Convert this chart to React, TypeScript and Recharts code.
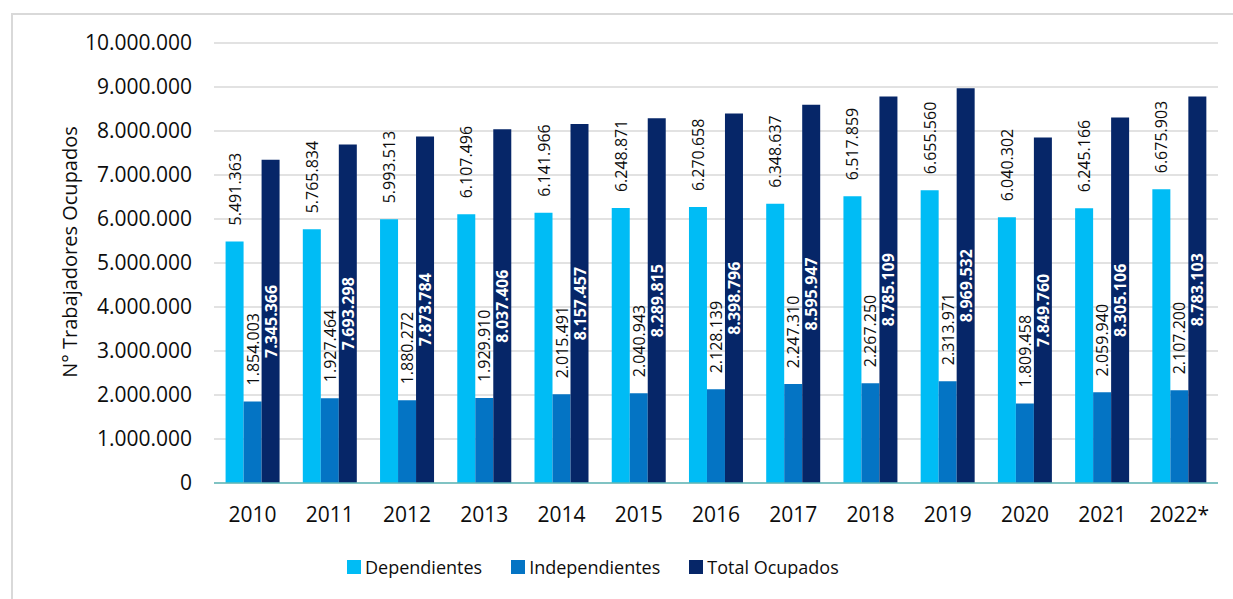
import React from 'react';
import {
  BarChart,
  Bar,
  XAxis,
  YAxis,
  CartesianGrid,
  Legend,
  LabelList,
  Label
} from 'recharts';

const YEARS = ['2010', '2011', '2012', '2013', '2014', '2015', '2016', '2017', '2018', '2019', '2020', '2021', '2022*'];
const DEPENDIENTES = [5491363, 5765834, 5993513, 6107496, 6141966, 6248871, 6270658, 6348637, 6517859, 6655560, 6040302, 6245166, 6675903];
const INDEPENDIENTES = [1854003, 1927464, 1880272, 1929910, 2015491, 2040943, 2128139, 2247310, 2267250, 2313971, 1809458, 2059940, 2107200];
const TOTAL_OCUPADOS = [7345366, 7693298, 7873784, 8037406, 8157457, 8289815, 8398796, 8595947, 8785109, 8969532, 7849760, 8305106, 8783103];
const Y_TICKS = [0, 1000000, 2000000, 3000000, 4000000, 5000000, 6000000, 7000000, 8000000, 9000000, 10000000];

const SERIES = [
  { key: 'dep', name: 'Dependientes', color: '#00bcf5' },
  { key: 'ind', name: 'Independientes', color: '#0474c4' },
  { key: 'tot', name: 'Total Ocupados', color: '#062668' }
];

const FONT = '"Open Sans", "Noto Sans", sans-serif';
const INK = '#0d0d0d';

const data = YEARS.map((year, i) => ({
  year,
  dep: DEPENDIENTES[i],
  ind: INDEPENDIENTES[i],
  tot: TOTAL_OCUPADOS[i]
}));

// 1234567 -> 1.234.567
const fmt = (v: number) => String(Math.round(v)).replace(/\B(?=(\d{3})+(?!\d))/g, '.');

// rotated label sitting just above the bar
const topLabel = (props: any) => {
  const { x, y, width, value } = props;
  const cx = x + width / 2;
  const ty = y - 16;
  return (
    <text
      x={cx}
      y={ty}
      transform={`rotate(-90 ${cx} ${ty})`}
      textAnchor="start"
      dominantBaseline="central"
      fontSize={16}
      fontFamily={FONT}
      fill={INK}
    >
      {fmt(value)}
    </text>
  );
};

// rotated label centred inside the bar
const centerLabel = (props: any) => {
  const { x, y, width, height, value } = props;
  const cx = x + width / 2;
  const cy = y + height / 2;
  return (
    <text
      x={cx}
      y={cy}
      transform={`rotate(-90 ${cx} ${cy})`}
      textAnchor="middle"
      dominantBaseline="central"
      fontSize={16}
      fontWeight={700}
      fontFamily={FONT}
      fill="#fff"
    >
      {fmt(value)}
    </text>
  );
};

const renderLegend = () => (
  <div style={{ display: 'flex', alignItems: 'center', gap: 29, fontFamily: FONT, fontSize: 18, color: INK }}>
    {SERIES.map(s => (
      <div key={s.key} style={{ display: 'flex', alignItems: 'center' }}>
        <span style={{ width: 14, height: 14, background: s.color, marginRight: 4, display: 'inline-block' }} />
        <span>{s.name}</span>
      </div>
    ))}
  </div>
);

export default function App() {
  return (
    <div style={{ position: 'fixed', left: 0, top: 0, width: 1233, height: 599, overflow: 'hidden', background: '#fff' }}>
      <div style={{ position: 'absolute', left: 11, top: 13, width: 1240, height: 620, border: '2px solid #d9d9d9', boxSizing: 'border-box' }} />
      <div style={{ position: 'absolute', left: 0, top: 0 }}>
        <BarChart
          width={1233}
          height={599}
          data={data}
          margin={{ top: 43, right: 15, left: 0, bottom: 56 }}
          barCategoryGap="15%"
          barGap={0}
        >
          <CartesianGrid vertical={false} stroke="#d9d9d9" strokeWidth={1.5} />
          <XAxis
            dataKey="year"
            height={60}
            tickLine={false}
            axisLine={{ stroke: '#5fb8b8', strokeWidth: 1.5 }}
            tickSize={0}
            tickMargin={24}
            tick={{ fontSize: 21, fill: INK, fontFamily: FONT }}
            interval={0}
          />
          <YAxis
            width={214}
            domain={[0, 10000000]}
            ticks={Y_TICKS}
            interval={0}
            tickFormatter={fmt}
            axisLine={false}
            tickLine={false}
            tickSize={0}
            tickMargin={22}
            tick={{ fontSize: 21, fill: INK, fontFamily: FONT }}
          >
            <Label
              content={() => (
                <text
                  x={69}
                  y={252}
                  transform="rotate(-90 69 252)"
                  textAnchor="middle"
                  dominantBaseline="central"
                  fontSize={20}
                  fontFamily={FONT}
                  fill={INK}
                >
                  N° Trabajadores Ocupados
                </text>
              )}
            />
          </YAxis>
          <Legend
            layout="horizontal"
            verticalAlign="middle"
            align="center"
            content={renderLegend}
            wrapperStyle={{ left: 347, top: 555, width: 600, height: 26 }}
          />
          <Bar dataKey="dep" name="Dependientes" fill={SERIES[0].color} isAnimationActive={false}>
            <LabelList dataKey="dep" content={topLabel} />
          </Bar>
          <Bar dataKey="ind" name="Independientes" fill={SERIES[1].color} isAnimationActive={false}>
            <LabelList dataKey="ind" content={topLabel} />
          </Bar>
          <Bar dataKey="tot" name="Total Ocupados" fill={SERIES[2].color} isAnimationActive={false}>
            <LabelList dataKey="tot" content={centerLabel} />
          </Bar>
        </BarChart>
      </div>
    </div>
  );
}
